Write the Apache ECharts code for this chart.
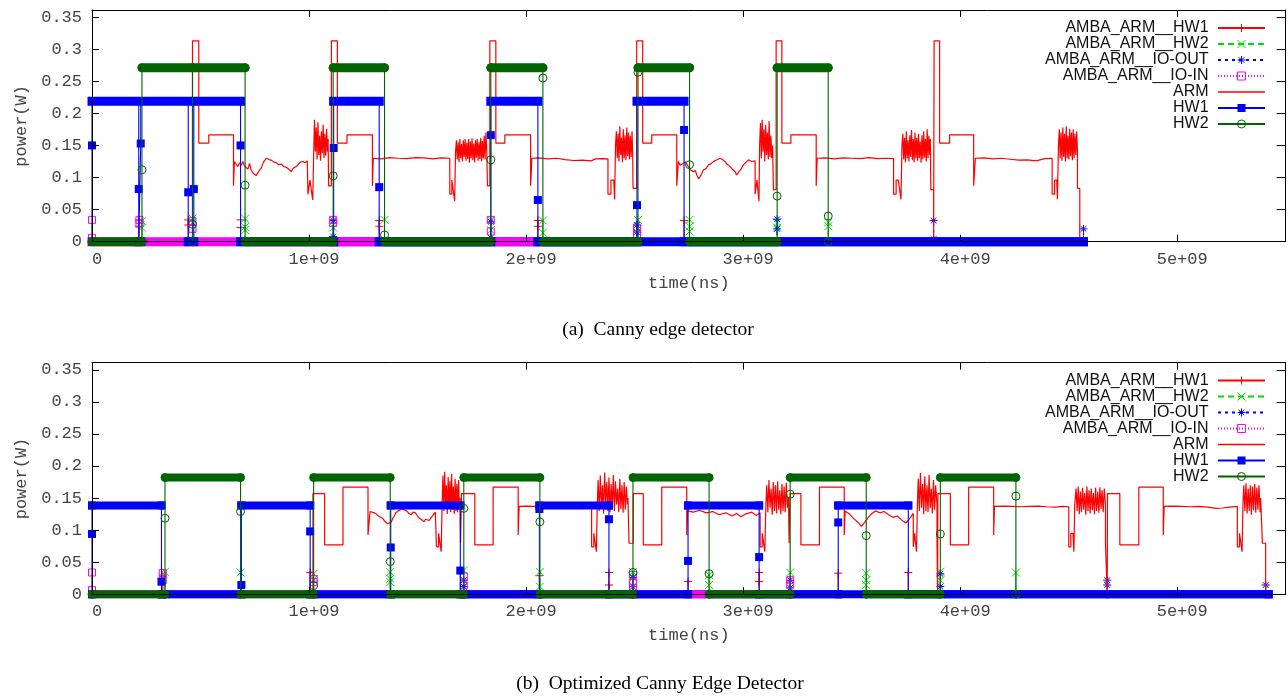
<!DOCTYPE html>
<html>
<head>
<meta charset="utf-8">
<script src="https://cdn.jsdelivr.net/npm/echarts@6.0.0/dist/echarts.min.js"></script>
<style>
html, body { margin: 0; padding: 0; background: #fff; }
#chart { width: 1288px; height: 696px; }
</style>
</head>
<body>
<div id="chart"></div>
<script>
// time values below are in units of 1e9 ns, power in W
var NS = 1e9;
var xTickStep = 1e9, xMax = 5.5e9;
var yTickStep = 0.05, yMax = 0.361;

// ---------- (a) Canny edge detector ----------
var amba1A = [[0,0],[0.2154,0],[0.2154,0.034],[0.2154,0.024],[0.2154,0],[0.4433,0],[0.4433,0.034],[0.4433,0.026],[0.4433,0],
  [0.6845,0],[0.6845,0.034],[0.6845,0.022],[0.6845,0],[1.3233,0],[1.3233,0.033],[1.3233,0.024],[1.3233,0],
  [2.0544,0],[2.0544,0.033],[2.0544,0.024],[2.0544,0],[2.7279,0],[2.7279,0.033],[2.7279,0],[4.5683,0]];
var amba2A = [[0,0],[0.2302,0],[0.2302,0.032],[0.2302,0.022],[0.2302,0],[0.4631,0],[0.4631,0.036],[0.4631,0.03],[0.4631,0],
  [0.7053,0],[0.7053,0.036],[0.7053,0.023],[0.7053,0.018],[0.7053,0],[1.1112,0],[1.1112,0.022],[1.1112,0],
  [1.3478,0],[1.3478,0.034],[1.3478,0],[1.8376,0],[1.8376,0.034],[1.8376,0.018],[1.8376,0],
  [2.0775,0],[2.0775,0.033],[2.0775,0.014],[2.0775,0],[2.5157,0],[2.5157,0.034],[2.5157,0.02],[2.5157,0],
  [2.7532,0],[2.7532,0.034],[2.7532,0.024],[2.7532,0.016],[2.7532,0],[3.1568,0],[3.1568,0.03],[3.1568,0.022],[3.1568,0],
  [3.3921,0],[3.3921,0.03],[3.3921,0.024],[3.3921,0]];
var ioOutA = [[1.1112,0],[1.1112,0.033],[1.1112,0.008],[1.1112,0],[1.8376,0],[1.8376,0.031],[1.8376,0.006],[1.8376,0],
  [2.5111,0],[2.5111,0.026],[2.5111,0.015],[2.5111,0],[3.1568,0],[3.1568,0.035],[3.1568,0.02],[3.1568,0],
  [3.8778,0],[3.8778,0.033],[3.8778,0.004],[3.8778,0],[4.5683,0],[4.5683,0.02],[4.5683,0]];
var ioInA = [[0,0.034],[0,0.006],[0,0],[0.2186,0],[0.2186,0.034],[0.2186,0.028],[0.2186,0],[0.4631,0],[0.4631,0.032],[0.4631,0.02],[0.4631,0],
  [1.1112,0],[1.1112,0.034],[1.1112,0.029],[1.1112,0],[1.8376,0],[1.8376,0.034],[1.8376,0.016],[1.8376,0],
  [2.5111,0],[2.5111,0.022],[2.5111,0.012],[2.5111,0]];
var armA = [[0,0],[0.463,0],[0.463,0.313],[0.492,0.313],[0.492,0.1535],[0.538,0.1535],[0.538,0.1665],[0.652,0.1665],[0.652,0.087],[0.656,0.125],
  [0.664,0.121],[0.672,0.117],[0.68,0.123],[0.688,0.119],[0.695,0.125],[0.703,0.118],[0.711,0.12],[0.718,0.113],[0.726,0.122],[0.733,0.112],
  [0.741,0.107],[0.748,0.11],[0.756,0.103],[0.764,0.101],[0.771,0.111],[0.78,0.115],[0.79,0.124],[0.803,0.13],[0.815,0.128],[0.826,0.127],
  [0.838,0.124],[0.849,0.123],[0.861,0.12],[0.872,0.121],[0.884,0.117],[0.895,0.116],[0.907,0.113],[0.918,0.109],[0.926,0.114],[0.934,0.112],
  [0.941,0.117],[0.949,0.12],[0.96,0.124],[0.972,0.125],[0.982,0.123],[0.992,0.126],
  [0.995,0.126],[0.995,0.074],[1.004,0.074],[1.004,0.096],[1.013,0.096],[1.017,0.065],[1.021,0.13],[1.025,0.19],[1.029,0.14],[1.033,0.178],
  [1.037,0.128],[1.041,0.186],[1.045,0.135],[1.049,0.165],[1.053,0.126],[1.057,0.172],[1.061,0.138],[1.065,0.182],[1.069,0.13],[1.073,0.168],
  [1.077,0.134],[1.081,0.176],[1.085,0.14],[1.088,0.16],[1.09,0.087],[1.103,0.087],
  [1.103,0.313],[1.1305,0.313],[1.1305,0.1535],[1.1748,0.1535],[1.1748,0.1665],[1.292,0.1665],[1.292,0.087],[1.296,0.13],[1.33,0.129],
  [1.37,0.131],[1.41,0.13],[1.45,0.1295],[1.49,0.131],[1.53,0.1305],[1.57,0.129],[1.61,0.1305],[1.6485,0.13],[1.6485,0.074],[1.658,0.074],
  [1.658,0.096],[1.667,0.096],[1.671,0.063],[1.675,0.14],
  [1.679,0.158],[1.683,0.128],[1.687,0.155],[1.691,0.124],[1.695,0.16],[1.699,0.13],[1.703,0.152],[1.707,0.125],[1.711,0.158],[1.715,0.132],
  [1.719,0.16],[1.723,0.126],[1.727,0.154],[1.731,0.129],[1.735,0.16],[1.739,0.123],[1.743,0.156],[1.747,0.13],[1.751,0.161],[1.755,0.127],
  [1.759,0.153],[1.763,0.124],[1.767,0.158],[1.771,0.131],[1.775,0.16],[1.779,0.126],[1.783,0.155],[1.787,0.129],[1.791,0.162],[1.795,0.125],
  [1.799,0.157],[1.803,0.13],[1.807,0.165],[1.811,0.128],[1.815,0.17],[1.819,0.14],[1.822,0.087],[1.833,0.087],
  [1.833,0.313],[1.8607,0.313],[1.8607,0.1535],[1.9022,0.1535],[1.9022,0.1665],[2.0208,0.1665],[2.0208,0.087],[2.0268,0.13],[2.06,0.1305],
  [2.1,0.129],[2.14,0.13],[2.18,0.128],[2.22,0.1265],[2.26,0.127],[2.3,0.126],[2.32,0.129],[2.35,0.1295],[2.3773,0.129],[2.3773,0.074],
  [2.391,0.074],[2.391,0.096],[2.404,0.096],[2.408,0.066],[2.412,0.15],
  [2.416,0.172],[2.42,0.13],[2.424,0.168],[2.428,0.125],[2.432,0.18],[2.436,0.135],[2.44,0.162],[2.444,0.124],[2.448,0.175],[2.452,0.13],
  [2.456,0.166],[2.46,0.127],[2.464,0.178],[2.468,0.133],[2.472,0.17],[2.476,0.128],[2.48,0.165],[2.484,0.132],[2.488,0.172],[2.491,0.14],
  [2.493,0.083],[2.5097,0.083],
  [2.5097,0.313],[2.5374,0.313],[2.5374,0.1535],[2.5789,0.1535],[2.5789,0.1665],[2.6942,0.1665],[2.6942,0.087],[2.7016,0.1248],[2.71,0.119],
  [2.7246,0.1223],[2.735,0.124],[2.7477,0.117],[2.757,0.112],[2.7707,0.1092],[2.78,0.111],[2.7864,0.104],[2.795,0.098],[2.8017,0.1014],
  [2.81,0.106],[2.8169,0.1119],[2.83,0.114],[2.84,0.1197],[2.85,0.121],[2.863,0.1248],[2.875,0.127],[2.8939,0.1301],[2.905,0.128],
  [2.917,0.1248],[2.925,0.121],[2.94,0.117],[2.95,0.113],[2.9631,0.1092],[2.97,0.104],[2.9783,0.1066],[2.99,0.113],[3.0014,0.1197],
  [3.01,0.122],[3.0245,0.1275],[3.04,0.125],[3.0554,0.126],[3.0554,0.074],[3.064,0.074],[3.064,0.096],[3.07,0.096],[3.073,0.063],[3.076,0.15],
  [3.08,0.185],[3.084,0.13],[3.088,0.19],[3.092,0.14],[3.096,0.175],[3.1,0.125],[3.104,0.182],[3.108,0.135],[3.112,0.17],[3.116,0.128],
  [3.12,0.188],[3.124,0.132],[3.128,0.165],[3.132,0.13],[3.136,0.15],[3.1397,0.081],[3.1522,0.081],
  [3.1522,0.313],[3.1785,0.313],[3.1785,0.1535],[3.22,0.1535],[3.22,0.1665],[3.3367,0.1665],[3.3367,0.087],[3.3413,0.13],[3.38,0.1305],
  [3.42,0.129],[3.46,0.1305],[3.5,0.13],[3.54,0.1295],[3.58,0.131],[3.62,0.1295],[3.66,0.13],[3.6933,0.1295],[3.6933,0.074],[3.705,0.074],
  [3.705,0.096],[3.715,0.096],[3.7274,0.066],[3.732,0.15],
  [3.736,0.168],[3.74,0.128],[3.744,0.162],[3.748,0.124],[3.752,0.172],[3.756,0.13],[3.76,0.158],[3.764,0.125],[3.768,0.166],[3.772,0.132],
  [3.776,0.174],[3.78,0.127],[3.784,0.16],[3.788,0.124],[3.792,0.17],[3.796,0.13],[3.8,0.162],[3.804,0.126],[3.808,0.168],[3.812,0.13],
  [3.816,0.156],[3.82,0.123],[3.824,0.166],[3.828,0.128],[3.832,0.172],[3.836,0.131],[3.84,0.16],[3.844,0.125],[3.848,0.175],[3.852,0.13],
  [3.856,0.165],[3.86,0.135],[3.8625,0.16],[3.865,0.081],[3.8778,0.081],[3.8778,0],[3.88,0],
  [3.88,0.313],[3.9054,0.313],[3.9054,0.1535],[3.9516,0.1535],[3.9516,0.1665],[4.0623,0.1665],[4.0623,0.087],[4.0701,0.13],[4.11,0.1305],
  [4.15,0.129],[4.19,0.13],[4.23,0.1285],[4.27,0.127],[4.31,0.1275],[4.35,0.126],[4.39,0.1295],[4.4239,0.13],[4.4239,0.074],[4.435,0.074],
  [4.435,0.096],[4.445,0.096],[4.4483,0.066],[4.453,0.15],
  [4.457,0.175],[4.461,0.13],[4.465,0.17],[4.469,0.126],[4.473,0.178],[4.477,0.132],[4.481,0.168],[4.485,0.125],[4.489,0.18],[4.493,0.13],
  [4.497,0.165],[4.501,0.128],[4.505,0.176],[4.509,0.133],[4.513,0.17],[4.517,0.127],[4.521,0.175],[4.525,0.13],[4.529,0.168],[4.533,0.135],
  [4.537,0.172],[4.5406,0.14],[4.5406,0.083],[4.5512,0.083],[4.5512,0]];
var hw1A = [[0,0],[0,0.15],[0,0.219],[0.2154,0.219],[0.2154,0.082],[0.2154,0],[0.2246,0],[0.2246,0.153],[0.2246,0.219],
  [0.4433,0.219],[0.4433,0.077],[0.4433,0],[0.4691,0],[0.4691,0.082],[0.4691,0.219],[0.6845,0.219],[0.6845,0.15],[0.6845,0],
  [1.1135,0],[1.1135,0.146],[1.1135,0.219],[1.3233,0.219],[1.3233,0.085],[1.3233,0],[1.8376,0],[1.8376,0.166],[1.8376,0.219],
  [2.0544,0.219],[2.0544,0.065],[2.0544,0],[2.5111,0],[2.5111,0.057],[2.5111,0.219],[2.7279,0.219],[2.7279,0.174],[2.7279,0],[4.5683,0]];
var hw2A = [[0,0],[0.2302,0],[0.2302,0.112],[0.2302,0.271],[0.4631,0.271],[0.4631,0.027],[0.4631,0],[0.4631,0.271],
  [0.7053,0.271],[0.7053,0.088],[0.7053,0],[1.1112,0],[1.1112,0.1025],[1.1112,0.271],[1.3478,0.271],[1.3478,0.0105],[1.3478,0],
  [1.8376,0],[1.8376,0.1275],[1.8376,0.271],[2.0775,0.271],[2.0775,0.255],[2.0775,0],[2.5157,0],[2.5157,0.264],[2.5157,0.271],
  [2.7532,0.271],[2.7532,0.12],[2.7532,0],[3.1568,0],[3.1568,0.071],[3.1568,0.271],[3.3921,0.271],[3.3921,0.04],[3.3921,0]];

// ---------- (b) Optimized Canny Edge Detector ----------
var amba1B = [[0,0],[0.3261,0],[0.3261,0.03],[0.3261,0],[1.0051,0],[1.0051,0.034],[1.0051,0],[2.0614,0],[2.0614,0.029],[2.0614,0],
  [2.3819,0],[2.3819,0.034],[2.3819,0.0145],[2.3819,0],[2.7463,0],[2.7463,0.02],[2.7463,0],[3.0738,0],[3.0738,0.034],[3.0738,0.02],[3.0738,0],
  [3.4382,0],[3.4382,0.033],[3.4382,0],[3.7611,0],[3.7611,0.034],[3.7611,0],[5.4213,0]];
var amba2B = [[0,0],[0.3363,0],[0.3363,0.035],[0.3363,0],[0.6845,0],[0.6845,0.034],[0.6845,0],[1.0212,0],[1.0212,0.032],[1.0212,0.0235],[1.0212,0],
  [1.3741,0],[1.3741,0.0346],[1.3741,0.0243],[1.3741,0.019],[1.3741,0],[1.7131,0],[1.7131,0.037],[1.7131,0.022],[1.7131,0.012],[1.7131,0],
  [2.0637,0],[2.0637,0.035],[2.0637,0.012],[2.0637,0],[2.4926,0],[2.4926,0.035],[2.4926,0],[2.8432,0],[2.8432,0.03],[2.8432,0.0145],[2.8432,0],
  [3.2168,0],[3.2168,0.034],[3.2168,0],[3.5673,0],[3.5673,0.033],[3.5673,0.022],[3.5673,0.0145],[3.5673,0],
  [3.9087,0],[3.9087,0.035],[3.9087,0.022],[3.9087,0],[4.2569,0],[4.2569,0.034],[4.2569,0]];
var ioOutB = [[1.7131,0],[1.7131,0.022],[1.7131,0.012],[1.7131,0],[2.4926,0],[2.4926,0.026],[2.4926,0.012],[2.4926,0],
  [3.2168,0],[3.2168,0.022],[3.2168,0.01],[3.2168,0],[3.9087,0],[3.9087,0.032],[3.9087,0.012],[3.9087,0],
  [4.6776,0],[4.6776,0.022],[4.6776,0.0145],[4.6776,0],[5.4077,0],[5.4077,0.0145],[5.4077,0],[5.4213,0]];
var ioInB = [[0,0.034],[0,0.0065],[0,0],[0.3261,0],[0.3261,0.033],[0.3261,0.022],[0.3261,0],[1.0212,0],[1.0212,0.024],[1.0212,0.019],[1.0212,0],
  [1.7131,0],[1.7131,0.028],[1.7131,0.014],[1.7131,0],[2.4926,0],[2.4926,0.03],[2.4926,0.018],[2.4926,0.01],[2.4926,0],
  [3.2168,0],[3.2168,0.022],[3.2168,0.015],[3.2168,0]];
var armB = [[0,0],[1.018,0],[1.018,0.157],[1.072,0.157],[1.072,0.077],[1.1564,0.077],[1.1564,0.167],[1.2717,0.167],[1.2717,0.0925],[1.281,0.129],
  [1.29,0.13],[1.3,0.127],[1.31,0.125],[1.32,0.122],[1.33,0.12],[1.34,0.118],[1.348,0.114],[1.355,0.113],[1.363,0.11],[1.372,0.108],
  [1.38,0.113],[1.385,0.118],[1.393,0.122],[1.4,0.127],[1.41,0.13],[1.43,0.133],[1.45,0.13],[1.46,0.126],[1.47,0.124],[1.48,0.128],
  [1.49,0.127],[1.5,0.122],[1.51,0.118],[1.52,0.116],[1.53,0.113],[1.537,0.117],[1.545,0.12],[1.553,0.115],[1.56,0.117],[1.568,0.122],
  [1.575,0.125],[1.582,0.128],[1.587,0.13],
  [1.587,0.074],[1.597,0.074],[1.597,0.095],[1.605,0.095],[1.609,0.0665],[1.613,0.14],[1.617,0.185],[1.621,0.13],[1.625,0.191],[1.629,0.14],
  [1.633,0.17],[1.637,0.125],[1.641,0.183],[1.645,0.135],[1.649,0.176],[1.653,0.128],[1.657,0.188],[1.661,0.132],[1.665,0.168],[1.669,0.125],
  [1.673,0.18],[1.677,0.13],[1.681,0.172],[1.685,0.128],[1.689,0.178],[1.693,0.135],[1.696,0.15],[1.698,0.0796],[1.7025,0.0796],
  [1.7025,0.157],[1.7638,0.157],[1.7638,0.077],[1.8482,0.077],[1.8482,0.167],[1.9636,0.167],[1.9636,0.0925],[1.968,0.137],[2.0,0.1375],
  [2.04,0.137],[2.08,0.138],[2.12,0.137],[2.16,0.1365],[2.2,0.1375],[2.24,0.137],[2.28,0.1365],[2.302,0.137],[2.302,0.074],[2.312,0.074],
  [2.312,0.095],[2.32,0.095],[2.324,0.0665],[2.328,0.14],
  [2.332,0.178],[2.337,0.13],[2.342,0.185],[2.347,0.135],[2.352,0.17],[2.357,0.126],[2.362,0.19],[2.367,0.14],[2.372,0.175],[2.377,0.13],
  [2.382,0.182],[2.387,0.128],[2.392,0.172],[2.397,0.135],[2.402,0.186],[2.407,0.13],[2.412,0.176],[2.417,0.14],[2.422,0.165],[2.427,0.128],
  [2.432,0.18],[2.437,0.133],[2.442,0.17],[2.447,0.127],[2.452,0.175],[2.457,0.132],[2.462,0.168],[2.467,0.14],[2.4696,0.15],[2.4742,0.0796],
  [2.494,0.0796],
  [2.494,0.157],[2.5401,0.157],[2.5401,0.077],[2.625,0.077],[2.625,0.167],[2.7403,0.167],[2.7403,0.0925],[2.745,0.13],[2.77,0.128],
  [2.8,0.131],[2.83,0.127],[2.86,0.129],[2.89,0.124],[2.92,0.127],[2.95,0.122],[2.97,0.126],[2.99,0.121],[3.01,0.125],[3.04,0.128],
  [3.06,0.123],[3.0784,0.127],[3.0784,0.074],[3.088,0.074],[3.088,0.095],[3.096,0.095],[3.1,0.0665],[3.105,0.14],
  [3.109,0.17],[3.114,0.128],[3.119,0.178],[3.124,0.135],[3.129,0.165],[3.134,0.124],[3.139,0.175],[3.144,0.13],[3.149,0.17],[3.154,0.126],
  [3.159,0.176],[3.164,0.132],[3.169,0.162],[3.174,0.125],[3.179,0.172],[3.184,0.13],[3.189,0.168],[3.194,0.128],[3.199,0.174],[3.204,0.135],
  [3.209,0.15],[3.212,0.0796],[3.2168,0.0796],
  [3.2168,0.157],[3.2661,0.157],[3.2661,0.077],[3.3519,0.077],[3.3519,0.167],[3.4659,0.167],[3.4659,0.0925],[3.47,0.13],[3.49,0.125],
  [3.51,0.118],[3.53,0.112],[3.545,0.106],[3.56,0.112],[3.575,0.119],[3.59,0.125],[3.61,0.13],[3.63,0.127],[3.65,0.129],[3.67,0.124],
  [3.69,0.12],[3.71,0.122],[3.73,0.116],[3.75,0.111],[3.765,0.117],[3.7841,0.126],[3.7841,0.074],[3.79,0.074],[3.79,0.095],[3.795,0.095],
  [3.799,0.0665],[3.803,0.14],
  [3.807,0.18],[3.812,0.13],[3.817,0.189],[3.822,0.135],[3.827,0.172],[3.832,0.125],[3.837,0.184],[3.842,0.13],[3.847,0.17],[3.852,0.128],
  [3.857,0.186],[3.862,0.134],[3.867,0.165],[3.872,0.126],[3.877,0.178],[3.882,0.132],[3.887,0.17],[3.8934,0.14],[3.8934,0.0796],
  [3.8962,0.0796],[3.8962,0],[3.8975,0],
  [3.8975,0.157],[3.9548,0.157],[3.9548,0.077],[4.0392,0.077],[4.0392,0.167],[4.1545,0.167],[4.1545,0.0925],[4.158,0.137],[4.2,0.1375],
  [4.24,0.137],[4.28,0.1365],[4.32,0.137],[4.36,0.1375],[4.4,0.1365],[4.44,0.136],[4.47,0.137],[4.5005,0.1365],[4.5005,0.074],[4.51,0.074],
  [4.51,0.095],[4.52,0.095],[4.524,0.0665],[4.528,0.14],
  [4.534,0.165],[4.539,0.13],[4.544,0.168],[4.549,0.125],[4.554,0.16],[4.559,0.128],[4.564,0.166],[4.569,0.132],[4.574,0.158],[4.579,0.124],
  [4.584,0.168],[4.589,0.13],[4.594,0.162],[4.599,0.126],[4.604,0.165],[4.609,0.131],[4.614,0.158],[4.619,0.125],[4.624,0.166],[4.629,0.13],
  [4.634,0.16],[4.639,0.127],[4.644,0.167],[4.649,0.133],[4.654,0.162],[4.659,0.128],[4.664,0.165],[4.6697,0.14],[4.6697,0.0796],
  [4.6776,0.0796],[4.6776,0],[4.679,0],
  [4.679,0.157],[4.7357,0.157],[4.7357,0.077],[4.8233,0.077],[4.8233,0.167],[4.9359,0.167],[4.9359,0.0925],[4.94,0.137],[4.98,0.1375],
  [5.02,0.137],[5.06,0.1365],[5.1,0.137],[5.14,0.136],[5.18,0.134],[5.21,0.1345],[5.24,0.136],[5.2772,0.137],[5.2772,0.074],[5.287,0.074],
  [5.287,0.095],[5.295,0.095],[5.299,0.0665],[5.303,0.14],
  [5.307,0.17],[5.312,0.13],[5.317,0.173],[5.322,0.126],[5.327,0.165],[5.332,0.13],[5.337,0.17],[5.342,0.124],[5.347,0.168],[5.352,0.131],
  [5.357,0.172],[5.362,0.127],[5.367,0.166],[5.372,0.132],[5.377,0.17],[5.382,0.128],[5.3847,0.15],[5.3925,0.0796],[5.4077,0.0796],[5.4077,0]];
var hw1B = [[0,0],[0,0.094],[0,0.1385],[0.3201,0.1385],[0.3201,0.0197],[0.3201,0],[0.6882,0],[0.6882,0.0145],[0.6882,0.1385],
  [1.0051,0.1385],[1.0051,0.098],[1.0051,0],[1.3764,0],[1.3764,0.073],[1.3764,0.1385],[1.697,0.1385],[1.697,0.037],[1.697,0],
  [2.0614,0],[2.0614,0.133],[2.0614,0.1385],[2.3819,0.1385],[2.3819,0.117],[2.3819,0],[2.7463,0],[2.7463,0.052],[2.7463,0.1385],
  [3.0738,0.1385],[3.0738,0.058],[3.0738,0],[3.4382,0],[3.4382,0.112],[3.4382,0.1385],[3.7611,0.1385],[3.7611,0],[5.4213,0]];
var hw2B = [[0,0],[0.3363,0],[0.3363,0.1185],[0.3363,0.182],[0.6845,0.182],[0.6845,0.129],[0.6845,0],[1.0212,0],[1.0212,0.0135],[1.0212,0.182],
  [1.3741,0.182],[1.3741,0.051],[1.3741,0],[1.7131,0],[1.7131,0.134],[1.7131,0.182],[2.0637,0.182],[2.0637,0.113],[2.0637,0],
  [2.4926,0],[2.4926,0.034],[2.4926,0.182],[2.8432,0.182],[2.8432,0.032],[2.8432,0],[3.2168,0],[3.2168,0.156],[3.2168,0.182],
  [3.5673,0.182],[3.5673,0.0915],[3.5673,0],[3.9087,0],[3.9087,0.094],[3.9087,0.182],[4.2569,0.182],[4.2569,0.153],[4.2569,0]];

var seriesNames = ['AMBA_ARM__HW1', 'AMBA_ARM__HW2', 'AMBA_ARM__IO-OUT', 'AMBA_ARM__IO-IN', 'ARM', 'HW1', 'HW2'];
var captionA = '(a)  Canny edge detector';
var captionB = '(b)  Optimized Canny Edge Detector';

// ---------- styles ----------
var PLUS = 'path://M0,5L10,5M5,0L5,10';
var CROSS = 'path://M0,0L10,10M10,0L0,10';
var STAR = 'path://M0,5L10,5M5,0L5,10M1.5,1.5L8.5,8.5M8.5,1.5L1.5,8.5';
var styles = [
	{ color: '#ff0000', symbol: PLUS, size: 8, stroke: true, dash: 'solid' },
	{ color: '#00dd00', symbol: CROSS, size: 8, stroke: true, dash: [6, 4] },
	{ color: '#0000ff', symbol: STAR, size: 8, stroke: true, dash: [3, 4], cap: 'square' },
	{ color: '#ff00ff', symbol: 'rect', size: 7, hollow: true, dash: [1, 2], cap: 'square' },
	{ color: '#ff0000', symbol: 'none', size: 0, dash: 'solid' },
	{ color: '#0000ff', symbol: 'rect', size: 8, dash: 'solid', cap: 'square' },
	{ color: '#006400', symbol: 'circle', size: 8, hollow: true, dash: 'solid', cap: 'round' }
];
var monoFont = 'Liberation Mono';

function toNs(p) {
	return [p[0] * NS, p[1]];
}

// plateaus drawn densely in the original (long runs at one level) -> thick strokes
function runsOf(pts) {
	var out = [];
	for (var i = 0; i < pts.length - 1; i++) {
		var a = pts[i], b = pts[i + 1];
		if (a[1] === b[1] && b[0] > a[0]) {
			out.push(toNs(a), toNs(b), [null, null]);
		}
	}
	return out;
}

function buildSeries(sets, axisIdx, barWidth) {
	var out = [];
	styles.forEach(function(s, k) {
		var itemStyle = { color: s.color };
		if (s.stroke) {
			itemStyle = { color: s.color, borderColor: s.color, borderWidth: 1 };
		}
		if (s.hollow) {
			itemStyle = { color: 'rgba(255,255,255,0)', borderColor: s.color, borderWidth: 1 };
		}
		out.push({
			type: 'line',
			name: seriesNames[k],
			xAxisIndex: axisIdx,
			yAxisIndex: axisIdx,
			z: 2 + k,
			data: sets[k].map(toNs),
			symbol: s.symbol,
			symbolSize: s.size,
			showSymbol: s.symbol !== 'none',
			itemStyle: itemStyle,
			lineStyle: { color: s.color, width: s.symbol === 'none' ? 1.2 : 1.1, type: s.dash },
			clip: false,
			silent: true,
			animation: false
		});
		if (s.cap) {
			out.push({
				type: 'line',
				name: seriesNames[k],
				xAxisIndex: axisIdx,
				yAxisIndex: axisIdx,
				z: 2 + k,
				data: runsOf(sets[k]),
				symbol: 'none',
				connectNulls: false,
				lineStyle: { color: s.color, width: barWidth, cap: s.cap, join: 'miter' },
				clip: false,
				silent: true,
				animation: false
			});
		}
	});
	return out;
}

function fmtX(v) {
	if (v % xTickStep !== 0) return '';
	return v === 0 ? '0' : (v / xTickStep) + 'e+09';
}
function fmtY(v) {
	var k = Math.round(v / yTickStep);
	if (Math.abs(v - k * yTickStep) > 1e-9) return '';
	return String(+(k * yTickStep).toFixed(2));
}

function xAxes(gi) {
	return [{
		type: 'value', gridIndex: gi, position: 'bottom', min: 0, max: xMax, interval: xTickStep, z: 50,
		axisLine: { show: true, onZero: false, lineStyle: { color: '#000', width: 1 } },
		axisTick: { show: true, inside: true, length: 7, lineStyle: { color: '#000' } },
		axisLabel: { margin: 9, padding: [0, 0, 0, 10], formatter: fmtX, fontFamily: monoFont, fontSize: 17, color: '#444', showMaxLabel: false },
		splitLine: { show: false },
		name: 'time(ns)', nameLocation: 'middle', nameGap: 33,
		nameTextStyle: { fontFamily: monoFont, fontSize: 17, color: '#444' }
	}, {
		type: 'value', gridIndex: gi, position: 'top', min: 0, max: xMax, interval: xTickStep, z: 50,
		axisLine: { show: true, onZero: false, lineStyle: { color: '#000', width: 1 } },
		axisTick: { show: true, inside: true, length: 7, lineStyle: { color: '#000' } },
		axisLabel: { show: false },
		splitLine: { show: false }
	}];
}
function yAxes(gi) {
	return [{
		type: 'value', gridIndex: gi, position: 'left', min: 0, max: yMax, interval: yTickStep, z: 50,
		axisLine: { show: true, onZero: false, lineStyle: { color: '#000', width: 1 } },
		axisTick: { show: true, inside: true, length: 7, lineStyle: { color: '#000' } },
		axisLabel: { margin: 10, formatter: fmtY, fontFamily: monoFont, fontSize: 17, color: '#444', showMaxLabel: false },
		splitLine: { show: false },
		name: 'power(W)', nameLocation: 'middle', nameGap: 62, nameRotate: 90,
		nameTextStyle: { fontFamily: monoFont, fontSize: 17, color: '#444' }
	}, {
		type: 'value', gridIndex: gi, position: 'right', min: 0, max: yMax, interval: yTickStep, z: 50,
		axisLine: { show: true, onZero: false, lineStyle: { color: '#000', width: 1 } },
		axisTick: { show: true, inside: true, length: 9, lineStyle: { color: '#000' } },
		axisLabel: { show: false },
		splitLine: { show: false }
	}];
}

function legendAt(top) {
	return {
		orient: 'vertical', right: 22, top: top, align: 'right', padding: 0,
		itemWidth: 47, itemHeight: 10, itemGap: 0, selectedMode: false,
		data: seriesNames.map(function(n) {
			return n === 'ARM' ? { name: n, icon: 'path://M0,0h47v1.3h-47z' } : n;
		}),
		formatter: function(n) { return n + ' '; },
		itemStyle: { borderWidth: 1 },
		textStyle: { fontFamily: 'Liberation Sans', fontSize: 16, color: '#111', lineHeight: 16 }
	};
}

function caption(text, x, y) {
	return {
		type: 'text', x: x, y: y, silent: true,
		style: {
			text: text, font: '19.5px "Liberation Serif"', fill: '#000',
			align: 'center', verticalAlign: 'middle', textAlign: 'center', textVerticalAlign: 'middle'
		}
	};
}

var myChart = echarts.init(document.getElementById('chart'), null, { renderer: 'canvas' });
var option = {
	animation: false,
	backgroundColor: '#fff',
	grid: [
		{ left: 92, top: 10, width: 1193.7, height: 231.7 },
		{ left: 92, top: 362.7, width: 1193.7, height: 231.6 }
	],
	xAxis: xAxes(0).concat(xAxes(1)),
	yAxis: yAxes(0).concat(yAxes(1)),
	legend: [legendAt(20), legendAt(372.5)],
	graphic: [caption(captionA, 658, 330), caption(captionB, 660, 684)],
	series: buildSeries([amba1A, amba2A, ioOutA, ioInA, armA, hw1A, hw2A], 0, 9)
		.concat(buildSeries([amba1B, amba2B, ioOutB, ioInB, armB, hw1B, hw2B], 2, 8))
};
myChart.setOption(option);
</script>
</body>
</html>
